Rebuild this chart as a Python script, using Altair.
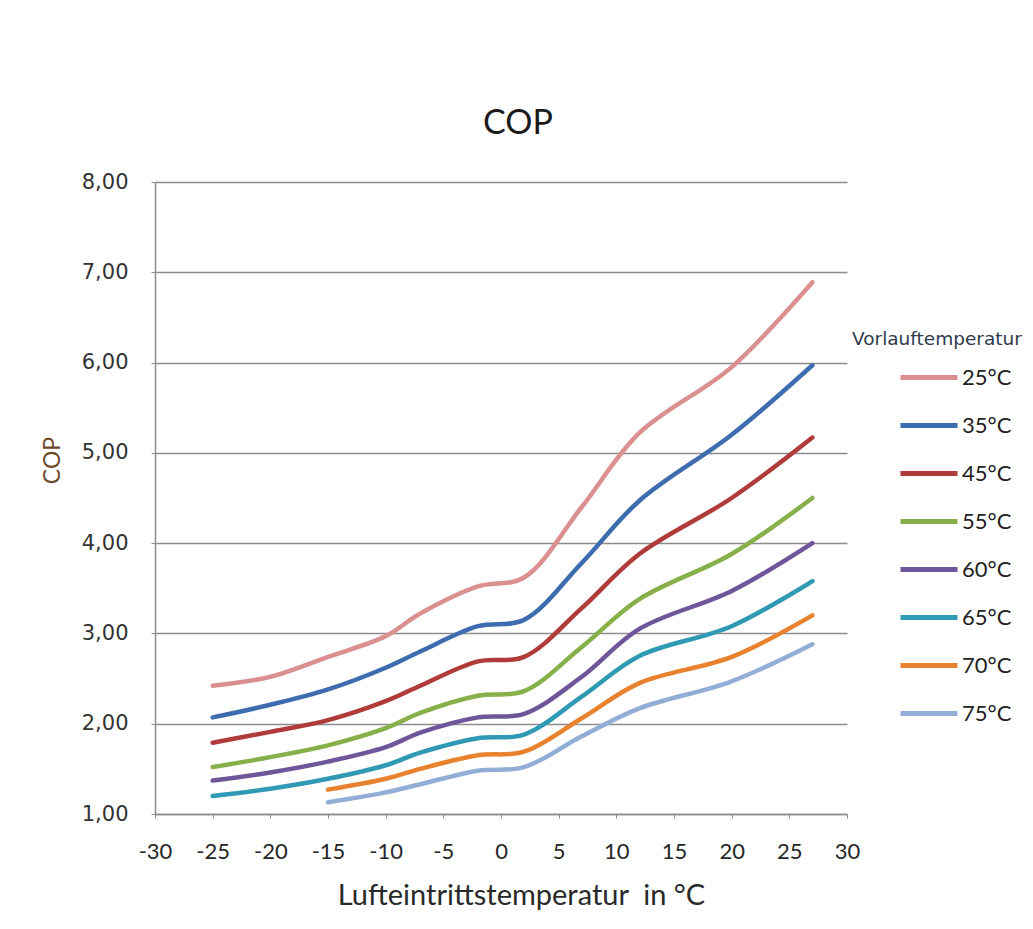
import altair as alt
import pandas as pd

temps = [-25, -20, -15, -10, -7, -2, 2, 7, 12, 20, 27]
series = ["25°C", "35°C", "45°C", "55°C", "60°C", "65°C", "70°C", "75°C"]
cop_25 = [2.42, 2.52, 2.74, 2.97, 3.22, 3.52, 3.62, 4.40, 5.22, 5.95, 6.89]
cop_35 = [2.07, 2.21, 2.38, 2.62, 2.80, 3.08, 3.15, 3.78, 4.47, 5.20, 5.97]
cop_45 = [1.79, 1.91, 2.04, 2.25, 2.42, 2.69, 2.74, 3.28, 3.88, 4.50, 5.17]
cop_55 = [1.52, 1.63, 1.76, 1.95, 2.12, 2.31, 2.36, 2.85, 3.38, 3.88, 4.50]
cop_60 = [1.37, 1.46, 1.58, 1.74, 1.90, 2.07, 2.11, 2.52, 3.05, 3.47, 4.00]
cop_65 = [1.20, 1.28, 1.39, 1.54, 1.68, 1.84, 1.88, 2.30, 2.75, 3.08, 3.58]
cop_70 = [None, None, 1.27, 1.39, 1.50, 1.65, 1.69, 2.06, 2.45, 2.74, 3.20]
cop_75 = [None, None, 1.13, 1.24, 1.33, 1.48, 1.52, 1.86, 2.17, 2.47, 2.88]
colors = ["#DA9091", "#3D6DAE", "#AF3B3A", "#88B04A", "#6F569B", "#3099B3", "#E8822F", "#93AED6"]

rows = []
for name, vals in zip(series, [cop_25, cop_35, cop_45, cop_55, cop_60, cop_65, cop_70, cop_75]):
    for t, v in zip(temps, vals):
        if v is not None:
            rows.append({"T": t, "COP": v, "Serie": name})
df = pd.DataFrame(rows)

chart = alt.Chart(df).mark_line(
    strokeWidth=4.5, interpolate="catmull-rom", strokeCap="round"
).encode(
    x=alt.X("T:Q", scale=alt.Scale(domain=[-30, 30], nice=False),
            axis=alt.Axis(values=list(range(-30, 31, 5)), grid=False,
                          labelExpr="'' + datum.value", labelFlush=False,
                          title="Lufteintrittstemperatur \u00a0in °C",
                          titleX=366, titleY=81, titleAlign="center", titleBaseline="middle",
                          titleFont="Lato", titleFontSize=29, titleFontWeight="normal", titleColor="#2a2a2a",
                          labelFont="Lato", labelFontSize=22, labelColor="#262626",
                          tickSize=4, labelPadding=23, tickColor="#8c8c8c",
                          domainColor="#8c8c8c", domainWidth=1.5)),
    y=alt.Y("COP:Q", scale=alt.Scale(domain=[1, 8], nice=False),
            axis=alt.Axis(values=[1, 2, 3, 4, 5, 6, 7, 8], grid=True, gridColor="#8c8c8c", gridWidth=1.5,
                          labelExpr="replace(format(datum.value, '.2f'), '.', ',')",
                          title="COP", titleX=-103, titleY=278, titleAlign="center", titleBaseline="middle",
                          titleAngle=270,
                          titleFont="Lato", titleFontSize=23, titleFontWeight="normal", titleColor="#6b4a2a",
                          labelFont="DejaVu Sans", labelFontSize=21, labelColor="#333333",
                          tickSize=4, labelPadding=23, tickColor="#8c8c8c",
                          domainColor="#8c8c8c", domainWidth=1.5)),
    color=alt.Color("Serie:N", scale=alt.Scale(domain=series, range=colors),
                    legend=alt.Legend(orient="none", legendX=697, legendY=148,
                                      title="Vorlauftemperatur", titleFont="DejaVu Sans",
                                      titleFontSize=18.5, titleFontWeight="normal", titleColor="#2f3a4f",
                                      titlePadding=17, padding=0,
                                      labelFont="Lato", labelFontSize=22, labelColor="#222222",
                                      symbolType="M-3,0H3", symbolSize=361, symbolStrokeWidth=5,
                                      symbolOffset=65, labelOffset=21, rowPadding=25)),
).properties(
    width=692, height=632,
    title=alt.Title("COP", font="Lato", fontSize=34, fontWeight="normal", color="#1a1a1a",
                    anchor="middle", dx=17, offset=3, baseline="alphabetic"),
    autosize=alt.AutoSizeParams(type="none"),
    padding={"left": 147, "top": 174, "right": 176, "bottom": 100},
).configure_view(stroke=None)

chart.save("out.html", embed_options={"renderer": "svg", "actions": False})
